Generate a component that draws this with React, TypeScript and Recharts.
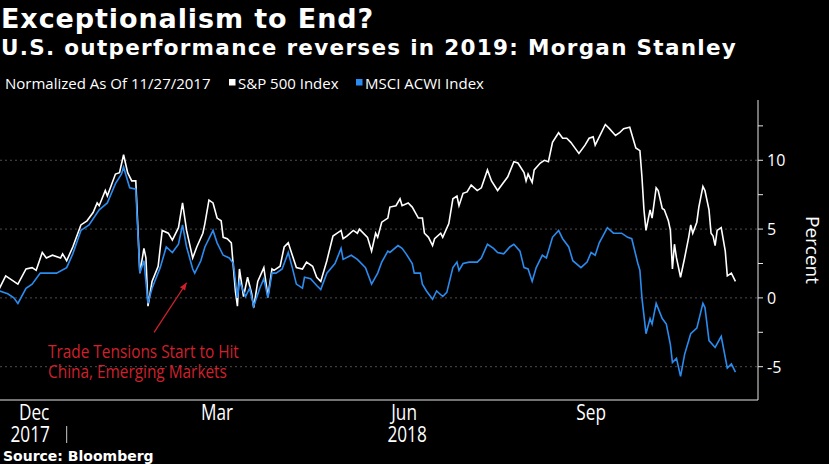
import React from 'react';
import { LineChart, Line, XAxis, YAxis, CartesianGrid, ReferenceLine } from 'recharts';

// S&P 500, % change since 11/27/2017
const spDates = [
  '2017-11-27', '2017-11-29', '2017-12-02', '2017-12-04', '2017-12-08', '2017-12-12', '2017-12-15', '2017-12-17',
  '2017-12-20', '2017-12-22', '2017-12-25', '2017-12-29', '2017-12-30', '2018-01-01', '2018-01-04', '2018-01-08',
  '2018-01-11', '2018-01-14', '2018-01-16', '2018-01-17', '2018-01-20', '2018-01-21', '2018-01-25', '2018-01-27',
  '2018-01-29', '2018-01-31', '2018-02-02', '2018-02-04', '2018-02-06', '2018-02-08', '2018-02-09', '2018-02-10',
  '2018-02-12', '2018-02-15', '2018-02-17', '2018-02-20', '2018-02-22', '2018-02-25', '2018-02-27', '2018-03-01',
  '2018-03-04', '2018-03-06', '2018-03-09', '2018-03-10', '2018-03-12', '2018-03-14', '2018-03-16', '2018-03-18',
  '2018-03-19', '2018-03-21', '2018-03-23', '2018-03-25', '2018-03-26', '2018-03-27', '2018-03-29', '2018-03-31',
  '2018-04-02', '2018-04-03', '2018-04-05', '2018-04-08', '2018-04-10', '2018-04-12', '2018-04-13', '2018-04-16',
  '2018-04-18', '2018-04-20', '2018-04-22', '2018-04-24', '2018-04-27', '2018-04-29', '2018-05-02', '2018-05-04',
  '2018-05-06', '2018-05-09', '2018-05-12', '2018-05-16', '2018-05-17', '2018-05-19', '2018-05-22', '2018-05-24',
  '2018-05-25', '2018-05-29', '2018-05-31', '2018-06-02', '2018-06-03', '2018-06-05', '2018-06-08', '2018-06-09',
  '2018-06-12', '2018-06-14', '2018-06-15', '2018-06-18', '2018-06-20', '2018-06-23', '2018-06-25', '2018-06-26',
  '2018-06-28', '2018-06-30', '2018-07-01', '2018-07-04', '2018-07-05', '2018-07-08', '2018-07-10', '2018-07-12',
  '2018-07-13', '2018-07-15', '2018-07-17', '2018-07-19', '2018-07-22', '2018-07-24', '2018-07-27', '2018-07-29',
  '2018-08-01', '2018-08-03', '2018-08-06', '2018-08-09', '2018-08-11', '2018-08-14', '2018-08-15', '2018-08-16',
  '2018-08-18', '2018-08-19', '2018-08-22', '2018-08-24', '2018-08-26', '2018-08-28', '2018-08-31', '2018-09-02',
  '2018-09-04', '2018-09-06', '2018-09-08', '2018-09-10', '2018-09-13', '2018-09-15', '2018-09-17', '2018-09-18',
  '2018-09-20', '2018-09-23', '2018-09-25', '2018-09-28', '2018-09-30', '2018-10-02', '2018-10-05', '2018-10-08',
  '2018-10-10', '2018-10-11', '2018-10-12', '2018-10-13', '2018-10-15', '2018-10-16', '2018-10-18', '2018-10-19',
  '2018-10-21', '2018-10-22', '2018-10-24', '2018-10-25', '2018-10-26', '2018-10-27', '2018-10-28', '2018-10-30',
  '2018-11-01', '2018-11-03', '2018-11-04', '2018-11-05', '2018-11-07', '2018-11-08', '2018-11-10', '2018-11-11',
  '2018-11-13', '2018-11-14', '2018-11-15', '2018-11-16', '2018-11-17', '2018-11-19', '2018-11-21', '2018-11-22',
  '2018-11-24', '2018-11-26',
];
const spValues = [
  0, 0.7, 1.6, 1.4, 1.0, 2.1, 2.2, 2.0,
  3.3, 2.9, 3.1, 2.9, 3.2, 2.7, 3.7, 5.3,
  5.6, 6.2, 6.9, 6.7, 7.8, 7.4, 9.0, 9.1,
  10.4, 9.1, 8.5, 8.5, 1.8, 3.6, 2.9, -0.6,
  1.2, 2.3, 4.9, 4.7, 4.2, 5.1, 6.9, 4.9,
  2.9, 3.7, 4.7, 5.4, 7.1, 6.9, 5.8, 5.6,
  4.4, 4.3, 4.0, 0.5, -0.6, 2.1, 0.1, 1.5,
  0.3, -0.7, 1.2, 2.2, 0.1, 2.1, 2.0, 2.3,
  3.7, 4.0, 3.1, 2.2, 2.1, 2.6, 2.3, 1.5,
  1.2, 2.7, 4.5, 4.9, 4.3, 4.5, 4.9, 4.7,
  5.0, 4.4, 3.4, 4.7, 4.4, 5.5, 5.8, 6.6,
  6.7, 7.2, 6.7, 6.9, 6.6, 5.8, 5.8, 4.7,
  4.4, 3.8, 4.3, 4.7, 4.4, 5.4, 7.2, 7.4,
  6.7, 7.6, 7.7, 8.2, 7.8, 8.0, 9.3, 8.5,
  7.8, 8.2, 8.8, 9.9, 9.8, 9.1, 8.5, 9.0,
  8.4, 9.3, 9.8, 10.0, 9.9, 11.3, 12.0, 11.6,
  11.6, 11.3, 10.9, 10.5, 11.1, 11.6, 11.7, 11.1,
  11.7, 12.6, 12.3, 11.8, 12.0, 12.3, 12.4, 10.9,
  10.7, 8.8, 6.4, 4.9, 6.4, 5.8, 8.0, 7.8,
  6.5, 6.4, 5.6, 4.9, 2.1, 3.9, 2.9, 1.5,
  2.9, 4.4, 5.3, 4.7, 5.5, 6.6, 8.1, 7.8,
  6.4, 4.7, 4.5, 3.8, 4.9, 5.1, 3.4, 1.6,
  1.8, 1.2,
];

// MSCI ACWI, % change since 11/27/2017
const acwiDates = [
  '2017-11-27', '2017-11-29', '2017-12-03', '2017-12-06', '2017-12-08', '2017-12-12', '2017-12-15', '2017-12-19',
  '2017-12-22', '2017-12-27', '2018-01-01', '2018-01-04', '2018-01-08', '2018-01-12', '2018-01-17', '2018-01-21',
  '2018-01-25', '2018-01-28', '2018-01-29', '2018-02-01', '2018-02-04', '2018-02-06', '2018-02-08', '2018-02-10',
  '2018-02-12', '2018-02-16', '2018-02-19', '2018-02-22', '2018-02-25', '2018-02-27', '2018-03-01', '2018-03-04',
  '2018-03-05', '2018-03-08', '2018-03-10', '2018-03-14', '2018-03-16', '2018-03-19', '2018-03-22', '2018-03-24',
  '2018-03-26', '2018-03-27', '2018-03-30', '2018-04-01', '2018-04-03', '2018-04-06', '2018-04-08', '2018-04-10',
  '2018-04-12', '2018-04-14', '2018-04-17', '2018-04-20', '2018-04-22', '2018-04-24', '2018-04-27', '2018-04-28',
  '2018-05-01', '2018-05-04', '2018-05-06', '2018-05-09', '2018-05-13', '2018-05-16', '2018-05-17', '2018-05-21',
  '2018-05-24', '2018-05-28', '2018-05-31', '2018-06-03', '2018-06-05', '2018-06-08', '2018-06-09', '2018-06-13',
  '2018-06-15', '2018-06-17', '2018-06-20', '2018-06-21', '2018-06-24', '2018-06-25', '2018-06-27', '2018-06-30',
  '2018-07-02', '2018-07-05', '2018-07-07', '2018-07-10', '2018-07-12', '2018-07-13', '2018-07-15', '2018-07-18',
  '2018-07-22', '2018-07-24', '2018-07-27', '2018-07-30', '2018-08-01', '2018-08-04', '2018-08-07', '2018-08-09',
  '2018-08-12', '2018-08-14', '2018-08-16', '2018-08-18', '2018-08-20', '2018-08-23', '2018-08-25', '2018-08-28',
  '2018-08-31', '2018-09-02', '2018-09-05', '2018-09-07', '2018-09-11', '2018-09-14', '2018-09-16', '2018-09-18',
  '2018-09-20', '2018-09-24', '2018-09-27', '2018-10-01', '2018-10-04', '2018-10-06', '2018-10-09', '2018-10-10',
  '2018-10-11', '2018-10-13', '2018-10-15', '2018-10-16', '2018-10-18', '2018-10-21', '2018-10-23', '2018-10-25',
  '2018-10-26', '2018-10-28', '2018-10-30', '2018-11-01', '2018-11-04', '2018-11-07', '2018-11-10', '2018-11-11',
  '2018-11-13', '2018-11-16', '2018-11-19', '2018-11-22', '2018-11-24', '2018-11-26',
];
const acwiValues = [
  0, 0.5, 0.3, 0, -0.4, 0.7, 1.0, 1.8,
  1.8, 1.8, 2.2, 3.2, 4.9, 5.3, 6.4, 6.9,
  8.3, 9.0, 9.5, 8.0, 7.9, 1.8, 2.7, -0.4,
  0.7, 2.2, 3.7, 3.3, 3.9, 5.3, 3.7, 2.1,
  1.8, 2.7, 3.7, 4.9, 4.0, 3.1, 2.9, 2.5,
  0, 1.2, 0.1, 0.7, -0.6, 0.7, 1.4, 0,
  1.8, 1.8, 2.1, 3.3, 2.2, 1.0, 0.7, 1.5,
  1.4, 0.9, 0.6, 1.8, 2.5, 3.6, 2.8, 3.1,
  2.8, 2.2, 1.0, 1.8, 2.6, 3.4, 3.3, 3.8,
  3.6, 3.2, 2.5, 1.8, 1.8, 1.0, 0.5, -0.1,
  0.5, 0.1, 0.4, 2.2, 2.6, 2.0, 2.5, 2.6,
  2.6, 2.9, 3.9, 3.6, 3.3, 3.2, 3.7, 3.9,
  3.4, 2.2, 2.1, 1.2, 2.2, 3.1, 2.9, 4.4,
  4.9, 4.3, 3.7, 2.7, 2.2, 2.6, 3.3, 3.1,
  4.0, 5.1, 4.7, 4.7, 4.4, 4.3, 2.5, 2.0,
  0, -2.6, -1.5, -1.9, -0.4, -1.5, -1.9, -3.4,
  -4.7, -4.4, -5.7, -4.1, -2.6, -2.2, -0.4, -0.7,
  -3.1, -3.6, -2.8, -5.1, -4.8, -5.4,
];

// axis ticks and labels
const monthStarts = [
  '2017-12-01', '2018-01-01', '2018-02-01', '2018-03-01', '2018-04-01', '2018-05-01', '2018-06-01',
  '2018-07-01', '2018-08-01', '2018-09-01', '2018-10-01', '2018-11-01', '2018-12-01',
];
const quarterStarts = ['2018-01-01', '2018-04-01', '2018-07-01', '2018-10-01'];
const monthLabels = [
  { date: '2017-12-16', month: 'Dec', year: '2017' },
  { date: '2018-01-01', month: '', year: '|' },
  { date: '2018-03-16', month: 'Mar', year: '' },
  { date: '2018-06-16', month: 'Jun', year: '2018' },
  { date: '2018-09-16', month: 'Sep', year: '' },
];
const yTicks = [-5, -2.5, 0, 2.5, 5, 7.5, 10, 12.5];
const yLabels = [-5, 0, 5, 10];

// annotation arrow, in chart units
const arrowFrom = { date: '2018-02-13', value: -2.5 };
const arrowTo = { date: '2018-03-01', value: 1.1 };

const START = Date.UTC(2017, 10, 27);
const toDay = (s: string) => {
  const [y, m, d] = s.split('-').map(Number);
  return (Date.UTC(y, m - 1, d) - START) / 86400000;
};

const spData = spDates.map((d, i) => ({ t: toDay(d), v: spValues[i] }));
const acwiData = acwiDates.map((d, i) => ({ t: toDay(d), v: acwiValues[i] }));

const X_DOMAIN: [number, number] = [2.2, 375.1];
const Y_DOMAIN: [number, number] = [-7.42, 14.38];

const SANS = '"Open Sans", sans-serif';
const BOLD = '"DejaVu Sans", sans-serif';
const BLUE = '#2b8cf0';
const RED = '#d0202e';
const SQUEEZE = 0.82; // narrow look for the date labels

const MonthTick = (props: any) => {
  const { x, y, payload } = props;
  const item = monthLabels.find((m) => toDay(m.date) === payload.value);
  if (!item) return null;
  if (item.year === '|') {
    return <line x1={x} x2={x} y1={y + 20} y2={y + 37} stroke="#ccc" strokeWidth={1} />;
  }
  const yearShift = item.year === '2017' ? -4 : 3;
  return (
    <text
      transform={`translate(${x} ${y + 14}) scale(${SQUEEZE} 1)`}
      fill="#fff"
      fontSize={21}
      fontFamily={SANS}
      textAnchor="middle"
    >
      <tspan x={0} y={0}>{item.month}</tspan>
      {item.year && (
        <tspan x={yearShift / SQUEEZE} y={22}>{item.year}</tspan>
      )}
    </text>
  );
};

const PercentTick = (props: any) => {
  const { x, y, payload } = props;
  if (!yLabels.includes(payload.value)) return null;
  return (
    <text x={x + 2} y={y + 6} fill="#fff" fontSize={16} fontFamily={SANS}>
      {payload.value}
    </text>
  );
};

const Arrow = (props: any) => {
  const { x1, y1, x2, y2 } = props;
  if (x1 == null) return null;
  const a = Math.atan2(y2 - y1, x2 - x1);
  const s = 8;
  const p1 = [x2 - s * Math.cos(a - 0.4), y2 - s * Math.sin(a - 0.4)];
  const p2 = [x2 - s * Math.cos(a + 0.4), y2 - s * Math.sin(a + 0.4)];
  return (
    <g>
      <line x1={x1} y1={y1} x2={x2} y2={y2} stroke={RED} strokeWidth={1.3} />
      <polygon points={`${x2},${y2} ${p1[0]},${p1[1]} ${p2[0]},${p2[1]}`} fill={RED} />
    </g>
  );
};

export default function App() {
  return (
    <div style={{ position: 'relative', width: 829, height: 464, background: '#000', overflow: 'hidden' }}>
      <style>{'body{margin:0;background:#000}'}</style>
      <LineChart
        width={829}
        height={464}
        margin={{ top: 100, right: 0, bottom: 18, left: 0 }}
        style={{ position: 'absolute', left: 0, top: 0 }}
      >
        <CartesianGrid
          stroke="#4d4d4d"
          strokeDasharray="2 3"
          horizontalValues={yLabels}
          verticalValues={quarterStarts.map(toDay)}
        />
        <XAxis
          dataKey="t"
          type="number"
          domain={X_DOMAIN}
          allowDataOverflow
          ticks={monthStarts.map(toDay)}
          interval={0}
          tick={false}
          tickSize={5}
          height={6}
          axisLine={{ stroke: '#e6e6e6' }}
          tickLine={{ stroke: '#e6e6e6' }}
        />
        <XAxis
          xAxisId="labels"
          dataKey="t"
          type="number"
          domain={X_DOMAIN}
          allowDataOverflow
          ticks={monthLabels.map((m) => toDay(m.date))}
          interval={0}
          tick={<MonthTick />}
          tickSize={0}
          tickMargin={0}
          height={40}
          axisLine={false}
          tickLine={false}
        />
        <YAxis
          orientation="right"
          type="number"
          domain={Y_DOMAIN}
          allowDataOverflow
          ticks={yTicks}
          interval={0}
          width={71}
          tickSize={5}
          tickMargin={2}
          tick={<PercentTick />}
          axisLine={{ stroke: '#e6e6e6' }}
          tickLine={{ stroke: '#e6e6e6' }}
        />
        <Line data={spData} dataKey="v" stroke="#ffffff" strokeWidth={1.6} dot={false} isAnimationActive={false} />
        <Line data={acwiData} dataKey="v" stroke={BLUE} strokeWidth={1.6} dot={false} isAnimationActive={false} />
        <ReferenceLine
          segment={[
            { x: toDay(arrowFrom.date), y: arrowFrom.value },
            { x: toDay(arrowTo.date), y: arrowTo.value },
          ]}
          shape={Arrow}
        />
      </LineChart>
      <svg width={829} height={464} style={{ position: 'absolute', left: 0, top: 0, pointerEvents: 'none' }}>
        <text x={1} y={28} fill="#fff" fontSize={27} fontWeight="bold" fontFamily={BOLD} letterSpacing={0.9}>
          Exceptionalism to End?
        </text>
        <text x={1} y={55} fill="#fff" fontSize={21.5} fontWeight="bold" fontFamily={BOLD} letterSpacing={1.3}>
          U.S. outperformance reverses in 2019: Morgan Stanley
        </text>
        <text x={5} y={89} fill="#fff" fontSize={15} fontFamily={SANS}>
          Normalized As Of 11/27/2017
        </text>
        <rect x={229} y={79} width={6.5} height={6.5} fill="#fff" />
        <text x={238} y={89} fill="#fff" fontSize={15} fontFamily={SANS}>
          S&amp;P 500 Index
        </text>
        <rect x={356} y={79} width={6.5} height={6.5} fill={BLUE} />
        <text x={365} y={89} fill="#fff" fontSize={15} fontFamily={SANS}>
          MSCI ACWI Index
        </text>
        <text x={806} y={250} fill="#fff" fontSize={19} fontFamily={SANS} textAnchor="middle" transform="rotate(90 806 250)">
          Percent
        </text>
        <text transform="translate(48 358) scale(0.88 1)" fill={RED} fontSize={17.5} fontFamily={SANS}>
          <tspan x={0} y={0}>Trade Tensions Start to Hit</tspan>
          <tspan x={0} y={20}>China, Emerging Markets</tspan>
        </text>
        <text x={3} y={461} fill="#fff" fontSize={14} fontWeight="bold" fontFamily={BOLD}>
          Source: Bloomberg
        </text>
      </svg>
    </div>
  );
}
